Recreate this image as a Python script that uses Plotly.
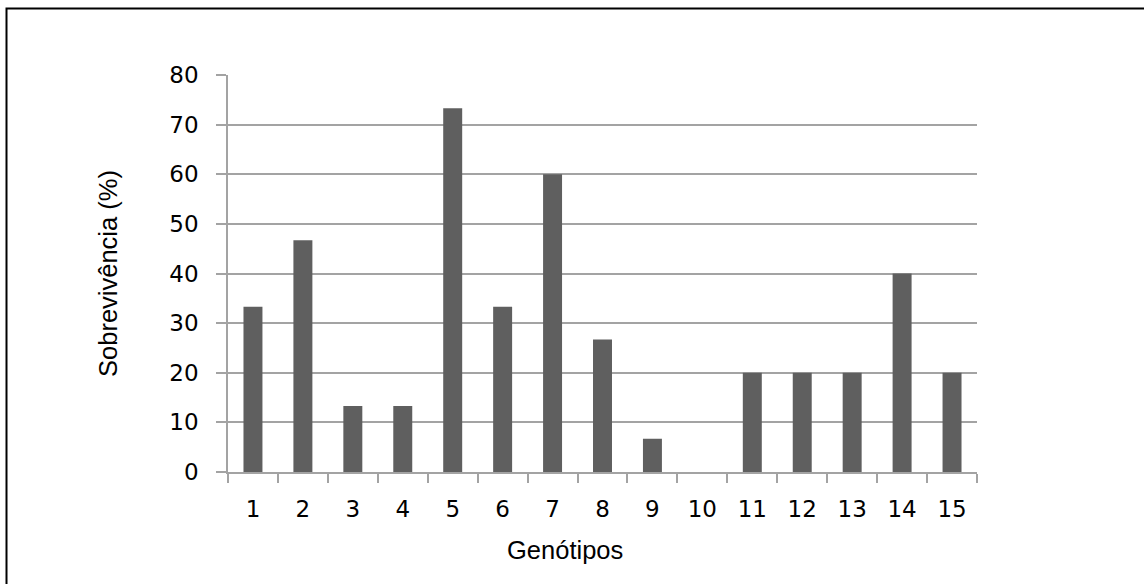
import plotly.graph_objects as go

genotipos = [str(i) for i in range(1, 16)]
sobrevivencia = [33.3, 46.7, 13.3, 13.3, 73.3, 33.3, 60.0, 26.7, 6.7, 0.0, 20.0, 20.0, 20.0, 40.0, 20.0]
y_ticks = [0, 10, 20, 30, 40, 50, 60, 70, 80]

W, H = 1144, 584
L, R, T, B = 228, 167, 75, 112
pw, ph = W - L - R, H - T - B

def px_x(p):
    return (p - L) / pw

def px_y(p):
    return (H - B - p) / ph

fig = go.Figure(go.Bar(
    x=genotipos, y=sobrevivencia,
    marker=dict(color="#5f5f5f", line=dict(width=0)),
))

grid = "#a3a3a3"
title_font = dict(family="Liberation Sans, Arial", size=25.5, color="black")
tick_font = dict(family="DejaVu Sans", size=23, color="black")
fig.update_layout(
    width=W, height=H,
    margin=dict(l=L, r=R, t=T, b=B, autoexpand=False),
    paper_bgcolor="white", plot_bgcolor="white",
    bargap=0.62,
    showlegend=False,
    font=dict(family="DejaVu Sans", size=23, color="black"),
    xaxis=dict(
        type="category",
        showline=True, linecolor=grid, linewidth=1.5,
        ticks="outside", tickson="boundaries", ticklen=9, tickcolor=grid, tickwidth=1.5,
        showgrid=False,
        tickfont=tick_font,
        ticklabelstandoff=16,
        automargin=False,
    ),
    yaxis=dict(
        range=[0, 80], tickvals=y_ticks,
        showline=True, linecolor=grid, linewidth=1.5,
        ticks="outside", ticklen=10, tickcolor=grid, tickwidth=1.5,
        showgrid=True, gridcolor=grid, gridwidth=1.5,
        zeroline=False,
        tickfont=tick_font,
        ticklabelstandoff=13,
        title=dict(text="Sobrevivência (%)", font=title_font, standoff=44),
        automargin=False,
    ),
    annotations=[dict(
        text="Genótipos", xref="paper", yref="paper",
        x=px_x(565), y=px_y(550), xanchor="center", yanchor="middle",
        showarrow=False, font=title_font,
    )],
    shapes=[dict(
        type="rect", xref="paper", yref="paper",
        x0=px_x(6.5), x1=px_x(1160), y0=px_y(600), y1=px_y(8.5),
        line=dict(color="black", width=2), fillcolor="rgba(0,0,0,0)", layer="above",
    )],
)

fig.write_html("out.html")
